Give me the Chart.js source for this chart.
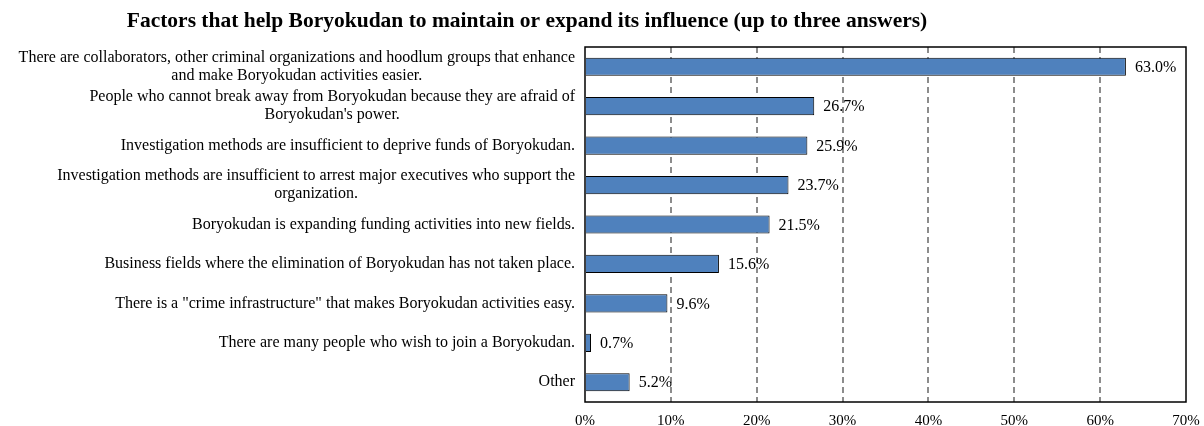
<!DOCTYPE html>
<html>
<head>
<meta charset="utf-8">
<script src="https://cdn.jsdelivr.net/npm/chart.js@4/dist/chart.umd.min.js"></script>
<style>
  body { margin: 0; background: #fff; }
  #wrap { width: 1204px; height: 426px; }
</style>
</head>
<body>
<div id="wrap"><canvas id="charts" width="1204" height="426"></canvas></div>
<script>
// categories (each entry = lines of the label)
const factorLabels = [
    ['There are collaborators, other criminal organizations and hoodlum groups that enhance', 'and make Boryokudan activities easier.'],
    ['People who cannot break away from Boryokudan because they are afraid of', "Boryokudan's power."],
    ['Investigation methods are insufficient to deprive funds of Boryokudan.'],
    ['Investigation methods are insufficient to arrest major executives who support the', 'organization.'],
    ['Boryokudan is expanding funding activities into new fields.'],
    ['Business fields where the elimination of Boryokudan has not taken place.'],
    ['There is a "crime infrastructure" that makes Boryokudan activities easy.'],
    ['There are many people who wish to join a Boryokudan.'],
    ['Other']
]
const percentages = [63.0, 26.7, 25.9, 23.7, 21.5, 15.6, 9.6, 0.7, 5.2]
const xTicks = [0, 10, 20, 30, 40, 50, 60, 70]
const chartTitle = 'Factors that help Boryokudan to maintain or expand its influence (up to three answers)'

const serif = '"Liberation Serif", "Times New Roman", serif'

// draws title, category labels, value labels and the plot box
const extras = {
    id: 'extras',
    afterDraw(chart) {
        const ctx = chart.ctx
        const area = chart.chartArea
        const yScale = chart.scales.y
        const meta = chart.getDatasetMeta(0)

        ctx.save()
        // title
        ctx.fillStyle = '#000'
        ctx.font = 'bold 21.5px ' + serif
        ctx.textAlign = 'center'
        ctx.textBaseline = 'middle'
        ctx.fillText(chartTitle, 527, 21)

        // category labels, lines centred on the widest line, block right aligned
        ctx.font = '16px ' + serif
        const lineH = 18
        factorLabels.forEach((lines, i) => {
            const yc = yScale.getPixelForValue(i)
            const maxW = Math.max(...lines.map(l => ctx.measureText(l).width))
            const cx = area.left - 10 - maxW / 2
            lines.forEach((l, j) => {
                const y = yc + (j - (lines.length - 1) / 2) * lineH
                ctx.fillText(l, cx, y)
            })
        })

        // value labels
        ctx.textAlign = 'left'
        meta.data.forEach((bar, i) => {
            ctx.fillText(percentages[i].toFixed(1) + '%', bar.x + 9, bar.y + 1)
        })

        // plot box
        ctx.strokeStyle = '#000'
        ctx.lineWidth = 1.5
        ctx.strokeRect(area.left, area.top, area.right - area.left, area.bottom - area.top)
        ctx.restore()
    }
}

const ctx = document.getElementById('charts').getContext('2d')

const chart = new Chart(ctx, {
    type: 'bar',
    data: {
        labels: factorLabels,
        datasets: [{
            data: percentages,
            backgroundColor: '#4F81BD',
            borderColor: '#000',
            borderWidth: 1,
            barPercentage: 0.46,
            categoryPercentage: 1
        }]
    },
    options: {
        indexAxis: 'y',
        responsive: false,
        animation: false,
        layout: { padding: { top: 47, right: 18, left: 0, bottom: 0 } },
        scales: {
            x: {
                min: 0,
                max: 70,
                afterBuildTicks: (scale) => { scale.ticks = xTicks.map(v => ({ value: v })) },
                afterFit: (scale) => {
                    scale.height = 24
                    scale.paddingLeft = 0
                    scale.paddingRight = 0
                },
                grid: {
                    drawTicks: false,
                    lineWidth: 2,
                    color: (c) => (c.index === 0 || c.index === xTicks.length - 1) ? 'rgba(0,0,0,0)' : '#8c8c8c'
                },
                border: { display: false, dash: [6, 4] },
                ticks: {
                    padding: 10,
                    color: '#000',
                    font: { family: serif, size: 15 },
                    callback: (v) => v + '%'
                }
            },
            y: {
                afterFit: (scale) => { scale.width = 585 },
                grid: { display: false },
                border: { display: false },
                ticks: { display: false }
            }
        },
        plugins: {
            legend: { display: false },
            title: { display: false },
            tooltip: { enabled: false }
        }
    },
    plugins: [extras]
})
</script>
</body>
</html>
